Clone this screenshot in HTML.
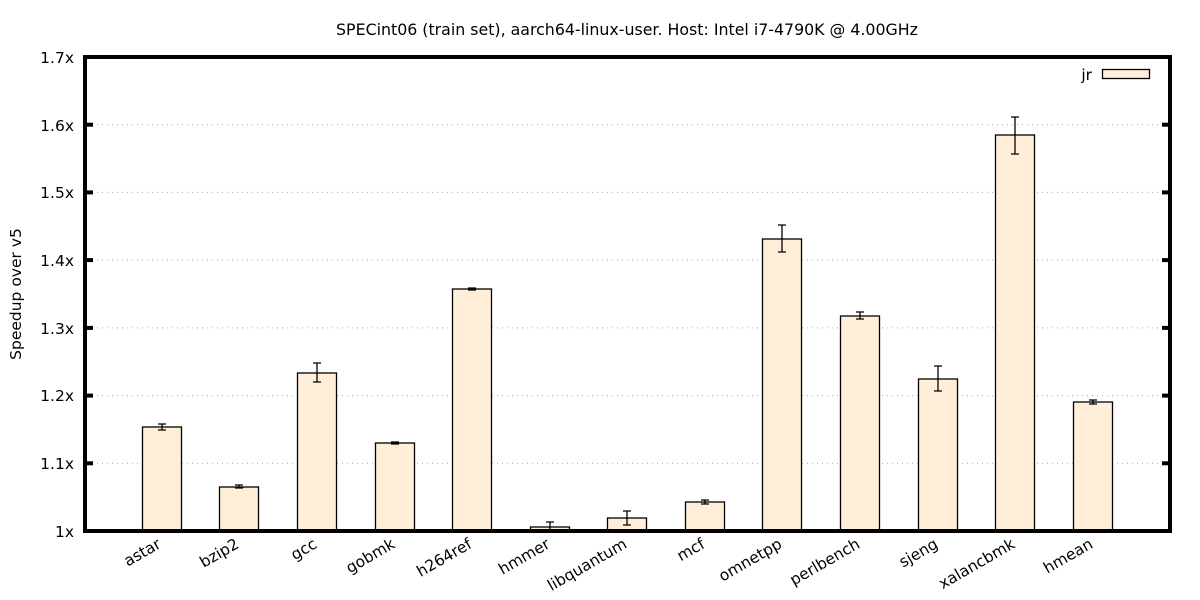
<!DOCTYPE html>
<html><head><meta charset="utf-8"><style>body{margin:0;background:#fff}svg{display:block}text{font-family:"DejaVu Sans","Liberation Sans",sans-serif;font-size:15.5px;fill:#000}</style></head><body>
<svg width="1200" height="600" viewBox="0 0 1200 600">
<text x="627" y="35" text-anchor="middle" style="font-size:15.8px">SPECint06 (train set), aarch64-linux-user. Host: Intel i7-4790K @ 4.00GHz</text>
<g stroke="#aaa" stroke-dasharray="1,4" stroke-width="1">
<line x1="87" x2="1168" y1="463.3" y2="463.3"/><line x1="87" x2="1168" y1="395.6" y2="395.6"/><line x1="87" x2="1168" y1="327.9" y2="327.9"/><line x1="87" x2="1168" y1="260.1" y2="260.1"/><line x1="87" x2="1168" y1="192.4" y2="192.4"/><line x1="87" x2="1168" y1="124.7" y2="124.7"/>
</g>
<g stroke="#000" stroke-width="4">
<line x1="85" x2="93" y1="463.3" y2="463.3"/><line x1="85" x2="93" y1="395.6" y2="395.6"/><line x1="85" x2="93" y1="327.9" y2="327.9"/><line x1="85" x2="93" y1="260.1" y2="260.1"/><line x1="85" x2="93" y1="192.4" y2="192.4"/><line x1="85" x2="93" y1="124.7" y2="124.7"/>
<line x1="1162" x2="1170" y1="463.3" y2="463.3"/><line x1="1162" x2="1170" y1="395.6" y2="395.6"/><line x1="1162" x2="1170" y1="327.9" y2="327.9"/><line x1="1162" x2="1170" y1="260.1" y2="260.1"/><line x1="1162" x2="1170" y1="192.4" y2="192.4"/><line x1="1162" x2="1170" y1="124.7" y2="124.7"/>
</g>
<g text-anchor="end">
<text x="74" y="537">1x</text><text x="74" y="469">1.1x</text><text x="74" y="401">1.2x</text><text x="74" y="334">1.3x</text><text x="74" y="266">1.4x</text><text x="74" y="198">1.5x</text><text x="74" y="131">1.6x</text><text x="74" y="63">1.7x</text>
</g>
<text transform="translate(21,294) rotate(-90)" text-anchor="middle">Speedup over v5</text>
<g fill="#ffefd9" stroke="#000" stroke-width="1.3">
<rect x="142.5" y="427" width="39" height="104"/>
<rect x="219.5" y="487" width="39" height="44"/>
<rect x="297.5" y="373" width="39" height="158"/>
<rect x="375.5" y="443" width="39" height="88"/>
<rect x="452.5" y="289" width="39" height="242"/>
<rect x="530.5" y="527" width="39" height="4"/>
<rect x="607.5" y="518" width="39" height="13"/>
<rect x="685.5" y="502" width="39" height="29"/>
<rect x="762.5" y="239" width="39" height="292"/>
<rect x="840.5" y="316" width="39" height="215"/>
<rect x="918.5" y="379" width="39" height="152"/>
<rect x="995.5" y="135" width="39" height="396"/>
<rect x="1073.5" y="402" width="39" height="129"/>
</g>
<g stroke="#000" stroke-width="1.3">
<path d="M162 424V430M158 424H166M158 430H166"/>
<path d="M239 485V488M235 485H243M235 488H243"/>
<path d="M317 363V382M313 363H321M313 382H321"/>
<path d="M395 442V444M391 442H399M391 444H399"/>
<path d="M472 288V290M468 288H476M468 290H476"/>
<path d="M550 522V530M546 522H554M546 530H554"/>
<path d="M627 511V525M623 511H631M623 525H631"/>
<path d="M705 500V504M701 500H709M701 504H709"/>
<path d="M782 225V252M778 225H786M778 252H786"/>
<path d="M860 312V319M856 312H864M856 319H864"/>
<path d="M938 366V391M934 366H942M934 391H942"/>
<path d="M1015 117V154M1011 117H1019M1011 154H1019"/>
<path d="M1093 400V404M1089 400H1097M1089 404H1097"/>
</g>
<rect x="85" y="57" width="1085" height="474" fill="none" stroke="#000" stroke-width="4"/>
<text x="1092" y="80" text-anchor="end">jr</text>
<rect x="1102.5" y="69.5" width="47" height="9" fill="#ffefd9" stroke="#000" stroke-width="1.3"/>
<g text-anchor="end">
<text transform="translate(162,547) rotate(-30)">astar</text>
<text transform="translate(240,547) rotate(-30)">bzip2</text>
<text transform="translate(318,547) rotate(-30)">gcc</text>
<text transform="translate(396,547) rotate(-30)">gobmk</text>
<text transform="translate(473,547) rotate(-30)">h264ref</text>
<text transform="translate(551,547) rotate(-30)">hmmer</text>
<text transform="translate(628,547) rotate(-30)">libquantum</text>
<text transform="translate(706,547) rotate(-30)">mcf</text>
<text transform="translate(783,547) rotate(-30)">omnetpp</text>
<text transform="translate(861,547) rotate(-30)">perlbench</text>
<text transform="translate(939,547) rotate(-30)">sjeng</text>
<text transform="translate(1016,547) rotate(-30)">xalancbmk</text>
<text transform="translate(1094,547) rotate(-30)">hmean</text>
</g>
</svg>
</body></html>
